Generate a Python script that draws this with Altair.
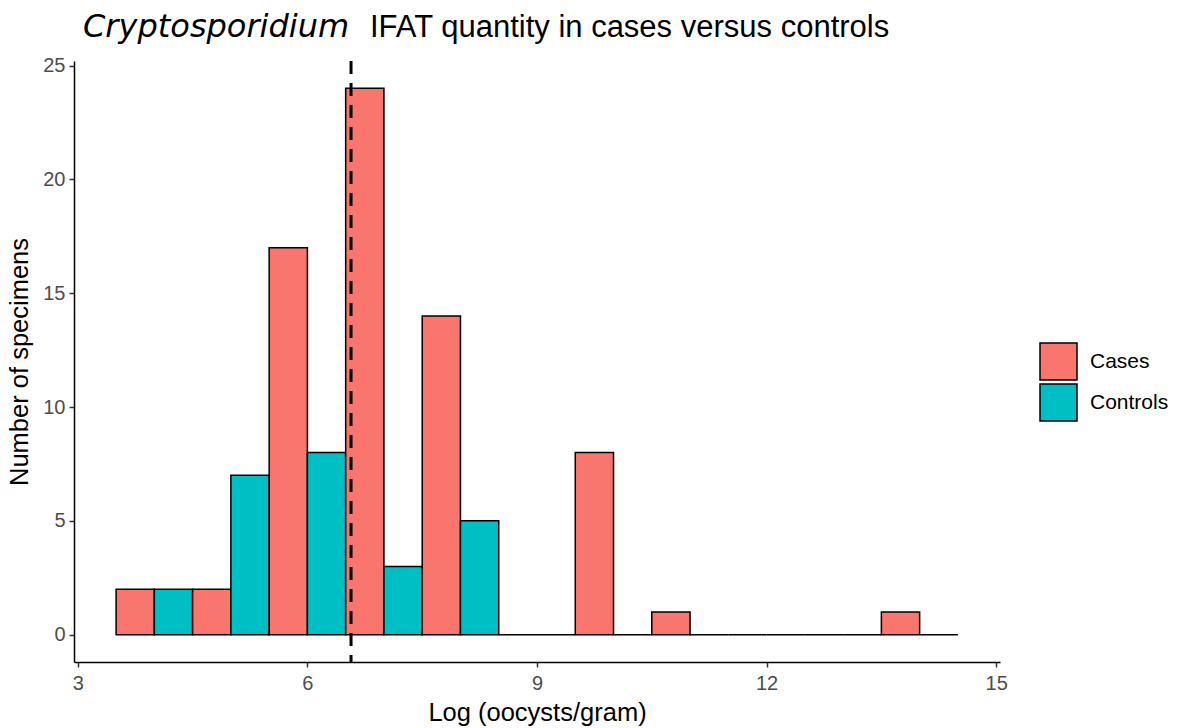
import altair as alt
import pandas as pd

# Histogram bins (width 1), dodged: Cases left half, Controls right half
bin_starts = [3.5, 4.5, 5.5, 6.5, 7.5, 8.5, 9.5, 10.5, 11.5, 12.5, 13.5]
cases = [2, 2, 17, 24, 14, 0, 8, 1, 0, 0, 1]
controls = [2, 7, 8, 3, 5, 0, 0, 0, 0, 0, 0]
groups = ["Cases", "Controls"]
colors = ["#F8766D", "#00BFC4"]
median_line = [6.57]
x_ticks = [3, 6, 9, 12, 15]
y_ticks = [0, 5, 10, 15, 20, 25]

rows = []
for b, c, k in zip(bin_starts, cases, controls):
    rows.append({"group": "Cases", "x": b, "x2": b + 0.5, "count": c, "zero": 0})
    rows.append({"group": "Controls", "x": b + 0.5, "x2": b + 1.0, "count": k, "zero": 0})
df = pd.DataFrame(rows)

PL, PT, W, H = 74, 61, 926, 601
FONT = "Liberation Sans"

xscale = alt.Scale(domain=[2.95, 15.05], nice=False, zero=False)
yscale = alt.Scale(domain=[-1.2, 25.2], nice=False, zero=False)

bars = alt.Chart(df).mark_rect(stroke="black", strokeWidth=1.5).encode(
    x=alt.X("x:Q", scale=xscale,
            axis=alt.Axis(title="Log (oocysts/gram)", values=x_ticks, format="d")),
    x2="x2:Q",
    y=alt.Y("count:Q", scale=yscale,
            axis=alt.Axis(title="Number of specimens", values=y_ticks, format="d")),
    y2="zero:Q",
    fill=alt.Fill("group:N", scale=alt.Scale(domain=groups, range=colors),
                  legend=alt.Legend(title=None, orient="none", legendX=965, legendY=281,
                                    symbolType="square", symbolSize=1369,
                                    symbolStrokeColor="black", symbolStrokeWidth=1.5,
                                    symbolOpacity=1, labelFontSize=21, labelFont=FONT,
                                    labelColor="black", rowPadding=-5, labelOffset=12,
                                    padding=0)),
)

vline = alt.Chart(pd.DataFrame({"m": median_line})).mark_rule(
    color="black", strokeWidth=3, strokeDash=[13, 9]
).encode(x=alt.X("m:Q", scale=xscale), y=alt.value(0), y2=alt.value(H))

title_df = pd.DataFrame({"a": ["Cryptosporidium"], "b": ["IFAT quantity in cases versus controls"]})
t1 = alt.Chart(title_df).mark_text(
    align="left", baseline="alphabetic", fontSize=32, fontStyle="italic",
    font="DejaVu Sans", color="black"
).encode(text="a:N", x=alt.value(83 - PL), y=alt.value(37 - PT))
t2 = alt.Chart(title_df).mark_text(
    align="left", baseline="alphabetic", fontSize=31, font=FONT, color="black"
).encode(text="b:N", x=alt.value(370 - PL), y=alt.value(37 - PT))

chart = alt.layer(bars, vline, t1, t2).properties(
    width=W, height=H,
    autosize=alt.AutoSizeParams(type="none"),
    padding={"left": PL, "top": PT, "right": 1179 - PL - W, "bottom": 728 - PT - H},
).configure_view(stroke=None).configure_axis(
    domainColor="black", domainWidth=1.5, tickColor="#333333", tickWidth=1.5, tickSize=5,
    labelFont=FONT, labelFontSize=20, labelColor="#4D4D4D", labelPadding=4,
    titleFont=FONT, titleFontSize=25.5, titleFontWeight="normal", titleColor="black",
    grid=False,
).configure_axisX(labelPadding=6, titlePadding=7).configure_axisY(titlePadding=10)

chart.save("out.html", embed_options={"renderer": "svg", "actions": False})
